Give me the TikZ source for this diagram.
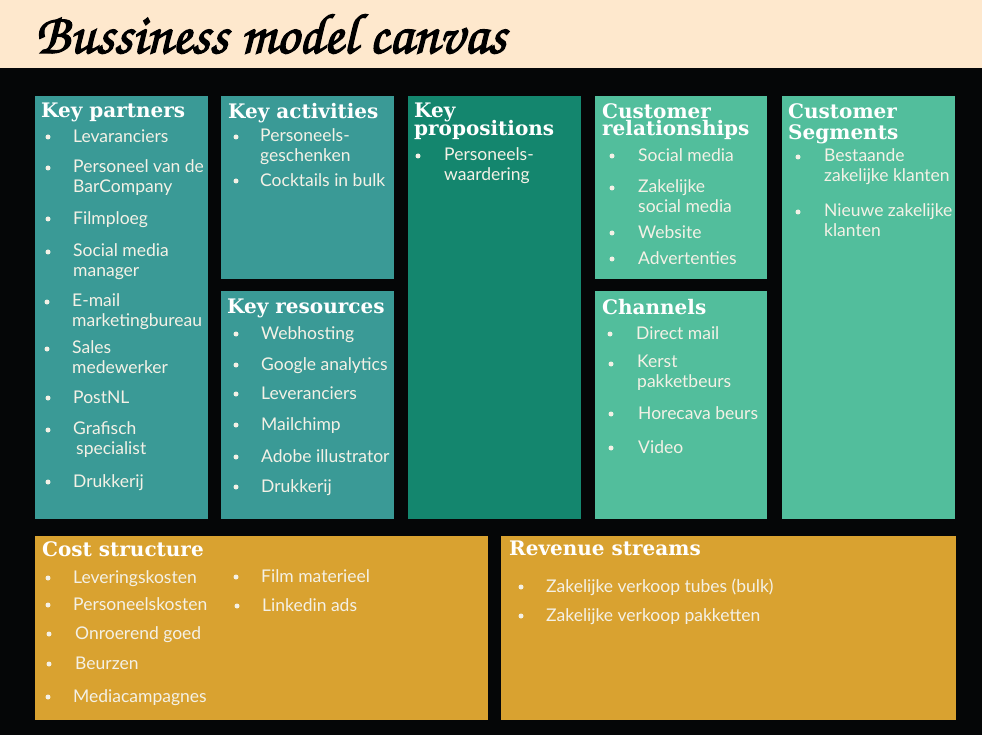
\documentclass[tikz,border=0pt]{standalone}
\usepackage{fontspec}
\setmainfont{Lato}
\newfontfamily\hdrfont{DejaVu Serif}

\definecolor{bgdark}{HTML}{050607}
\definecolor{band}{HTML}{FEE8CD}
\definecolor{tealbox}{HTML}{3A9A96}
\definecolor{deepgreen}{HTML}{14866E}
\definecolor{mint}{HTML}{52BE9C}
\definecolor{gold}{HTML}{D9A230}
\definecolor{ink}{HTML}{F4F1E6}

% heavier script lettering: fill and stroke the glyphs
\newcommand\heavytext[1]{\special{pdf:literal 2 Tr 1.3 w}#1\special{pdf:literal 0 Tr}}

\newcounter{itm}
\tikzset{
  panel/.style={anchor=north west, inner sep=0pt, outer sep=0pt, draw=none},
  hdrtext/.style={anchor=north west, inner sep=0pt, align=left, text=white,
    font=\hdrfont\bfseries\fontsize{20}{20}\selectfont, execute at begin node=\strut},
  itemtext/.style={anchor=north west, inner sep=0pt, align=left, text=ink,
    font=\fontsize{17.5}{20}\selectfont, execute at begin node=\strut},
  dot/.style={fill=ink},
}
% a coloured block of the canvas
\newcommand\panel[6]{\node[panel,fill=#2,minimum width={#5pt-#3pt},minimum height={#6pt-#4pt}] (#1) at (#3,#4) {};}
% block heading, top-left corner given
\newcommand\hdr[4]{\node[hdrtext] (#1) at (#2,#3) {#4};}
% bullet point: bullet x, text x, y of first line, text
\newcommand\bmcitem[4]{\stepcounter{itm}%
  \fill[dot] (#1,#3) circle[radius=2.5pt];
  \node[itemtext] (item-\theitm) at (#2,#3-9) {#4};}

\begin{document}
\begin{tikzpicture}[x=1pt,y=-1pt]
\useasboundingbox (0,0) rectangle (982,735);
\fill[bgdark] (0,0) rectangle (982,735);
\fill[band] (0,0) rectangle (982,68);
\node[anchor=base west, inner sep=0pt, text=black,
  font=\fontencoding{T1}\fontfamily{pzc}\fontseries{mb}\fontshape{it}\fontsize{57}{60}\selectfont]
  (title) at (35,53) {\heavytext{Bussiness model canvas}};

% blocks
\panel{kp}{tealbox}{35}{96}{208}{519}
\panel{ka}{tealbox}{221}{96}{394}{279}
\panel{kr}{tealbox}{221}{291}{394}{519}
\panel{vp}{deepgreen}{408}{96}{581}{519}
\panel{cr}{mint}{595}{96}{767}{279}
\panel{ch}{mint}{595}{291}{767}{519}
\panel{cs}{mint}{782}{96}{955}{519}
\panel{cost}{gold}{35}{536}{488}{720}
\panel{rev}{gold}{501}{536}{956}{720}

% headings
\hdr{kph}{41}{103}{Key partners}
\hdr{kah}{228}{103}{Key activities}
\hdr{krh}{227}{299}{Key resources}
\hdr{vph}{414}{103}{Key\\[-2pt]propositions}
\hdr{crh}{602}{103}{Customer\\[-3pt]relationships}
\hdr{csh}{788}{103}{Customer\\[1pt]Segments}
\hdr{chh}{602}{299}{Channels}
\hdr{costh}{42}{541}{Cost structure}
\hdr{revh}{509}{541}{Revenue streams}

% Key partners
\bmcitem{48}{73}{137}{Levaranciers}
\bmcitem{48}{73}{168}{Personeel van de\\BarCompany}
\bmcitem{48}{73}{219}{Filmploeg}
\bmcitem{48}{73}{252}{Social media\\manager}
\bmcitem{47}{72}{302}{E-mail\\marketingbureau}
\bmcitem{47}{72}{349}{Sales\\medewerker}
\bmcitem{48}{73}{398}{PostNL}
\bmcitem{48}{73}{430}{Grafisch\\\hspace{3pt}specialist}
\bmcitem{48}{73}{482}{Drukkerij}

% Key activities
\bmcitem{236}{260}{137}{Personeels-\\geschenken}
\bmcitem{236}{260}{181}{Cocktails in bulk}

% Key resources
\bmcitem{236}{261}{334}{Webhosting}
\bmcitem{236}{261}{365}{Google analytics}
\bmcitem{236}{261}{394}{Leveranciers}
\bmcitem{236}{261}{425}{Mailchimp}
\bmcitem{236}{261}{457}{Adobe illustrator}
\bmcitem{236}{261}{487}{Drukkerij}

% Value propositions
\bmcitem{418}{444}{156}{Personeels-\\waardering}

% Customer relationships
\bmcitem{612}{638}{156}{Social media}
\bmcitem{612}{638}{188}{Zakelijke\\social media}
\bmcitem{612}{638}{233}{Website}
\bmcitem{612}{638}{259}{Advertenties}

% Channels
\bmcitem{610}{636}{334}{Direct mail}
\bmcitem{611}{637}{364}{Kerst\\pakketbeurs}
\bmcitem{611}{638}{414}{Horecava beurs}
\bmcitem{611}{638}{448}{Video}

% Customer segments
\bmcitem{798}{824}{157}{Bestaande\\zakelijke klanten}
\bmcitem{798}{824}{212}{Nieuwe zakelijke\\klanten}

% Cost structure
\bmcitem{48}{73}{578}{Leveringskosten}
\bmcitem{48}{73}{605}{Personeelskosten}
\bmcitem{49}{75}{634}{Onroerend goed}
\bmcitem{49}{75}{664}{Beurzen}
\bmcitem{48}{73}{697}{Mediacampagnes}
\bmcitem{236}{261}{577}{Film materieel}
\bmcitem{237}{262}{606}{Linkedin ads}

% Revenue streams
\bmcitem{521}{546}{587}{Zakelijke verkoop tubes (bulk)}
\bmcitem{521}{546}{616}{Zakelijke verkoop pakketten}
\end{tikzpicture}
\end{document}
